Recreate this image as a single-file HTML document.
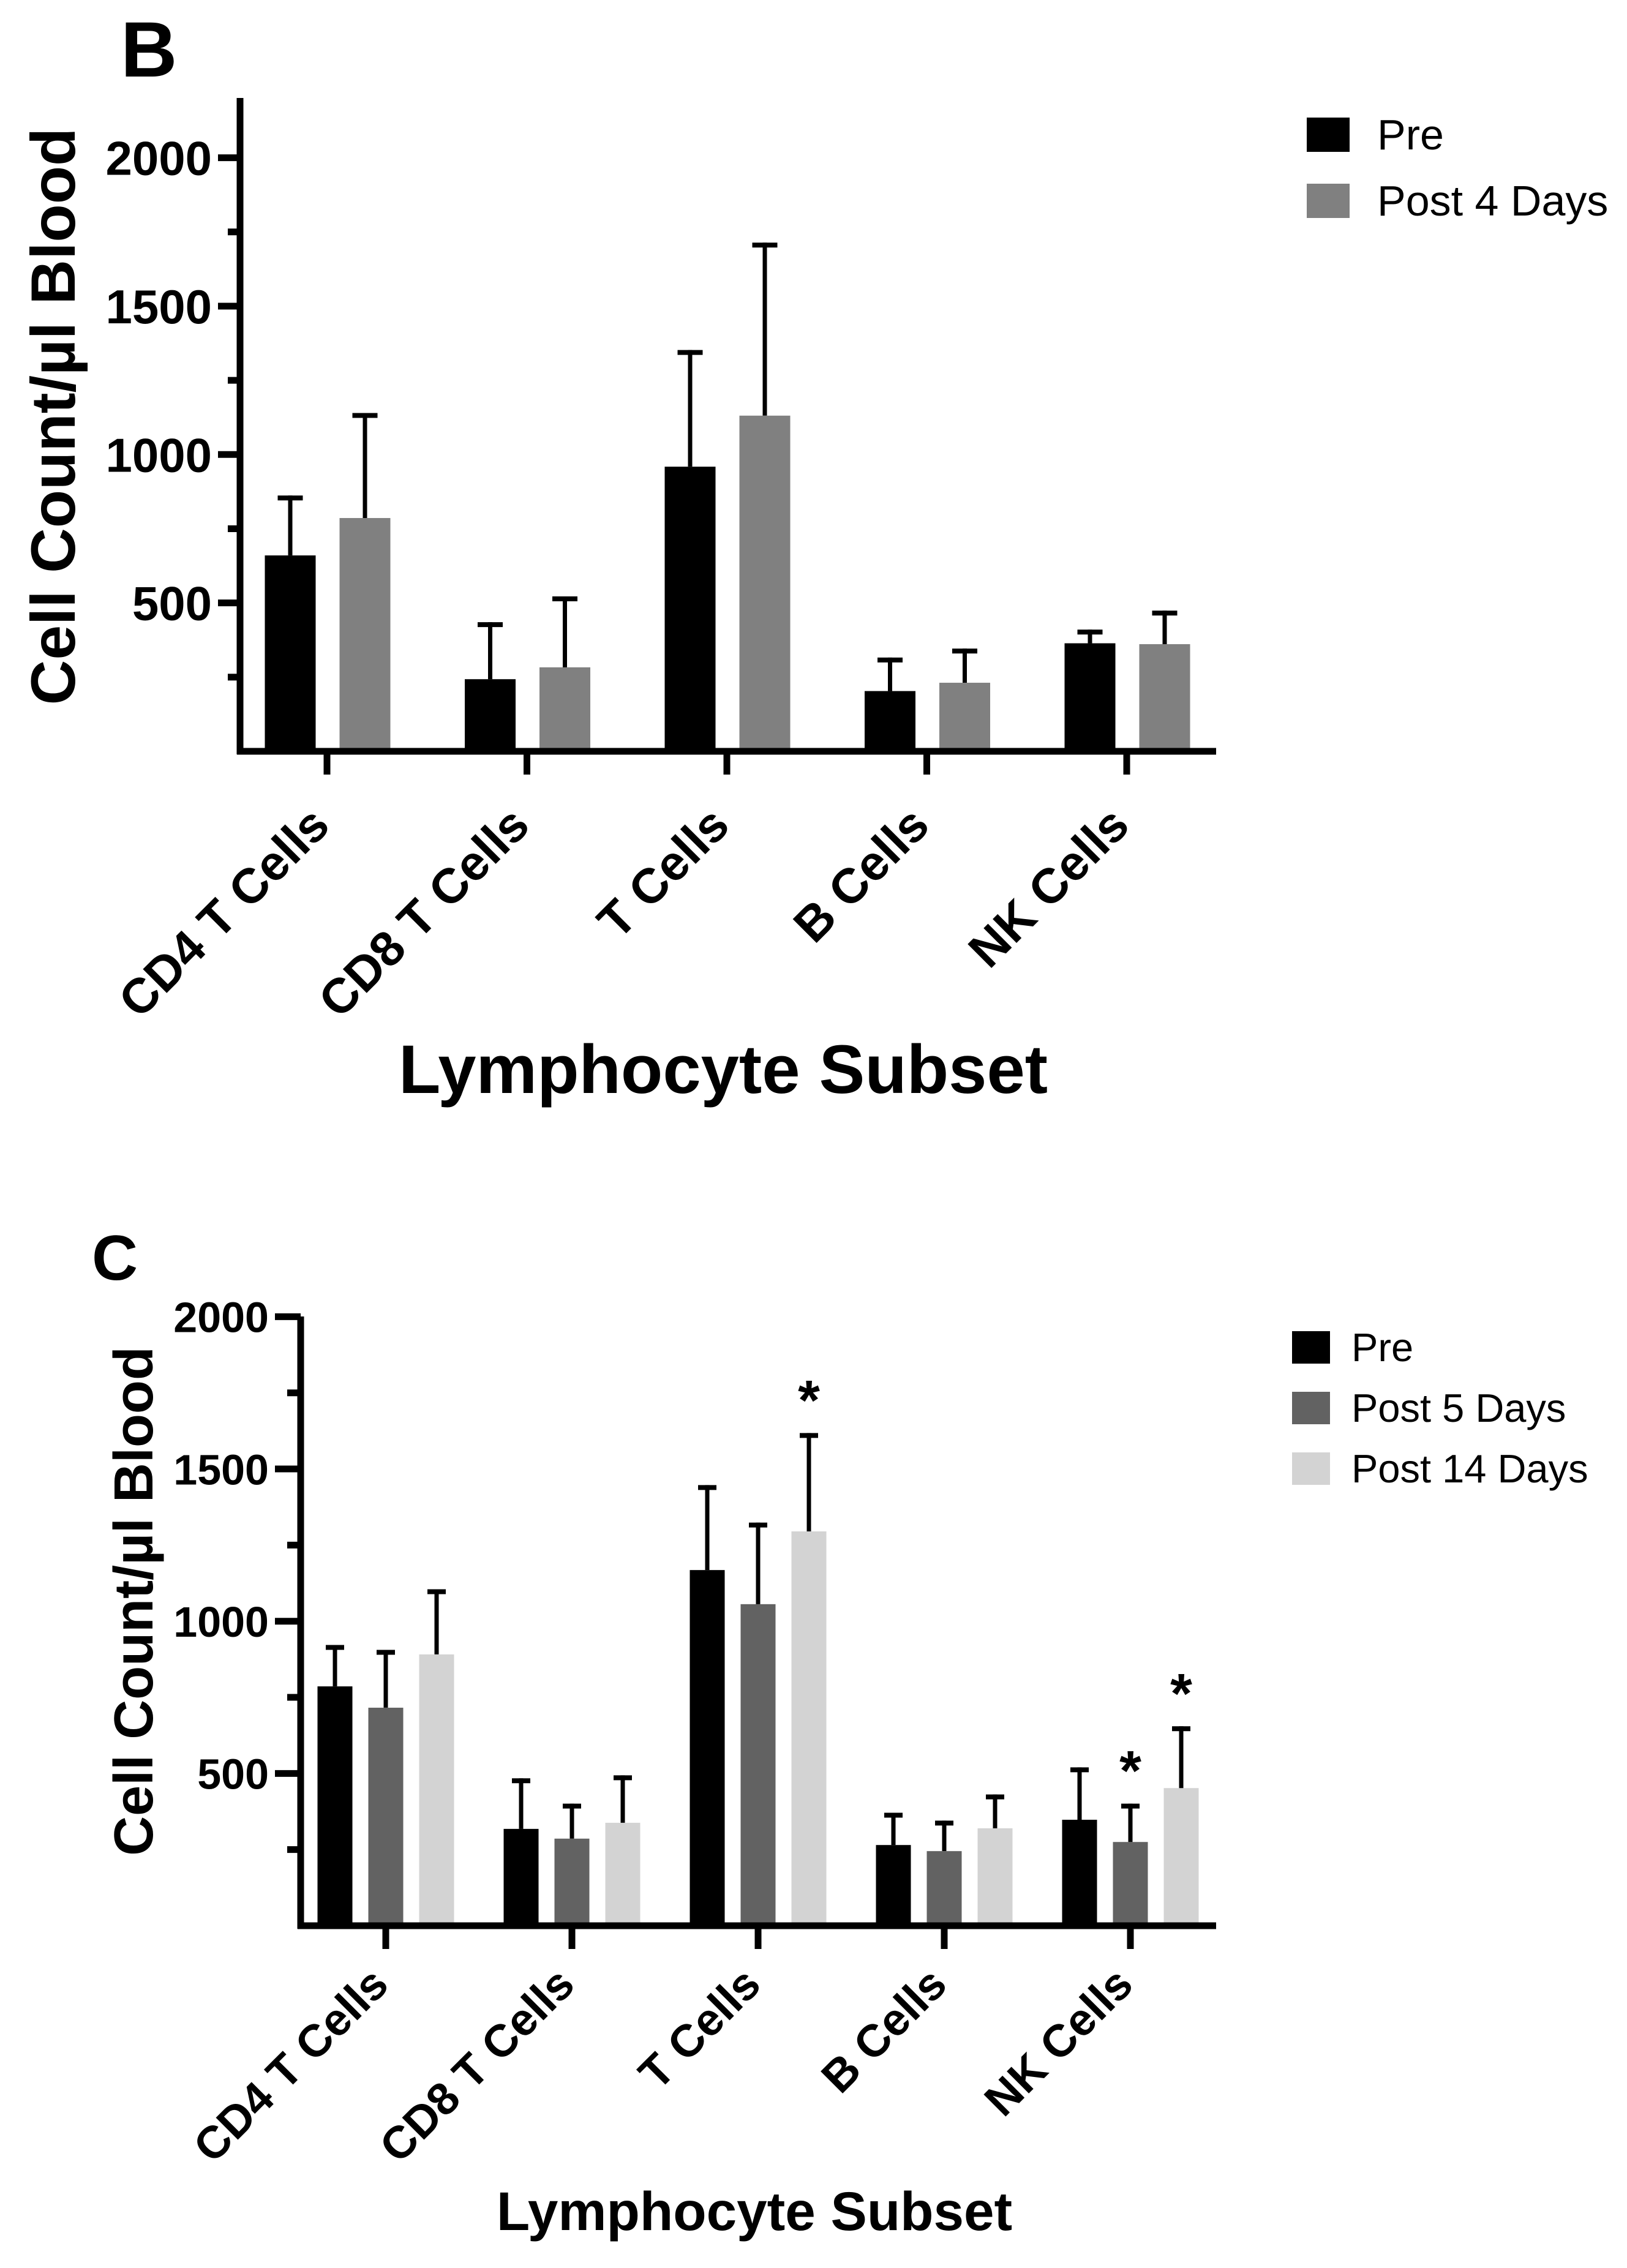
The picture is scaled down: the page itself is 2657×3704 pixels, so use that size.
<!DOCTYPE html>
<html><head><meta charset="utf-8"><style>
html,body{margin:0;padding:0;background:#fff}
svg{display:block}
text{font-family:"Liberation Sans",Arial,sans-serif}
</style></head><body>
<svg id="fig" width="2657" height="3704" viewBox="0 0 2657 3704" xmlns="http://www.w3.org/2000/svg">
<text x="197" y="125" font-size="128" font-weight="bold">B</text>
<text x="150" y="2090" font-size="104" font-weight="bold">C</text>
<g id="chartB"></g>
<g id="chartC"></g>
</svg>
<script>
const categories = ["CD4 T Cells","CD8 T Cells","T Cells","B Cells","NK Cells"];
const yTickValues = [500,1000,1500,2000];
const yMinorValues = [250,750,1250,1750];
const seriesB = ["Pre","Post 4 Days"];
const bPre = [660,243,959,203,364];
const bPreErr = [862,435,1352,316,410];
const bPost4 = [786,283,1131,231,361];
const bPost4Err = [1140,522,1714,346,474];
const seriesC = ["Pre","Post 5 Days","Post 14 Days"];
const cPre = [786,318,1168,265,348];
const cPreErr = [922,484,1447,371,520];
const cPost5 = [716,286,1056,245,275];
const cPost5Err = [906,401,1324,345,401];
const cPost14 = [891,338,1295,320,452];
const cPost14Err = [1105,494,1618,431,655];
const cSig5 = [false,false,false,false,true];
const cSig14 = [false,false,true,false,true];

const NS="http://www.w3.org/2000/svg";
function mk(parent,tag,attrs,txt){const e=document.createElementNS(NS,tag);for(const k in attrs)e.setAttribute(k,attrs[k]);if(txt!==undefined)e.textContent=txt;parent.appendChild(e);return e;}

function drawChart(g,cfg){
  const y=v=>cfg.y0-(v)*cfg.ppu;
  const x=i=>cfg.x0+i*cfg.step;
  cfg.series.forEach((s,si)=>{
    s.vals.forEach((v,i)=>{
      const cx=x(i)+cfg.offsets[si];
      const r=mk(g,'rect',{x:cx-cfg.bw/2,y:y(v),width:cfg.bw,height:cfg.y0-y(v),fill:s.color});
      
      
      const l=mk(g,'line',{x1:cx,x2:cx,y1:y(v),y2:y(s.err[i]),stroke:'#000','stroke-width':7});
      
      
      const c=mk(g,'line',{x1:cx-cfg.cap/2,x2:cx+cfg.cap/2,y1:y(s.err[i])+4,y2:y(s.err[i])+4,stroke:'#000','stroke-width':8});
      
      
      if(s.sig && s.sig[i]){
        const t=mk(g,'text',{x:cx,y:y(s.err[i])-cfg.starGap,'font-size':cfg.starSize,'font-weight':'bold','text-anchor':'middle'},'*');
        
        
      }
    });
  });
  const ya=mk(g,'line',{x1:cfg.ax,x2:cfg.ax,y1:cfg.axTop,y2:cfg.y0+5,stroke:'#000','stroke-width':11});
  
  
  const xa=mk(g,'line',{x1:cfg.ax-5,x2:cfg.axRight,y1:cfg.y0,y2:cfg.y0,stroke:'#000','stroke-width':11});
  
  
  yTickValues.forEach(v=>{
    const t=mk(g,'line',{x1:cfg.ax-cfg.tickLen,x2:cfg.ax,y1:y(v),y2:y(v),stroke:'#000','stroke-width':11});
    
    
    const lb=mk(g,'text',{x:cfg.ax-cfg.tickLen-10,y:y(v)+cfg.tickFont*0.36,'font-size':cfg.tickFont,'font-weight':'bold','text-anchor':'end'},String(v));
    
    
  });
  yMinorValues.forEach(v=>{
    const t=mk(g,'line',{x1:cfg.ax-cfg.minorLen,x2:cfg.ax,y1:y(v),y2:y(v),stroke:'#000','stroke-width':11});
    
    
  });
  categories.forEach((c,i)=>{
    const t=mk(g,'line',{x1:x(i),x2:x(i),y1:cfg.y0,y2:cfg.y0+38,stroke:'#000','stroke-width':11});
    
    
    const ax=x(i)+cfg.catDX, ay=cfg.catY;
    const lb=mk(g,'text',{x:ax,y:ay,'font-size':cfg.catFont,'font-weight':'bold','text-anchor':'end',transform:`rotate(-45 ${ax} ${ay})`},c);
    
    
  });
  const yt=mk(g,'text',{x:cfg.ytX,y:cfg.ytMid,'font-size':cfg.ytFont,'font-weight':'bold','text-anchor':'middle',transform:`rotate(-90 ${cfg.ytX} ${cfg.ytMid})`},'Cell Count/µl Blood');
  
  
  const xt=mk(g,'text',{x:cfg.xtX,y:cfg.xtY,'font-size':cfg.xtFont,'font-weight':'bold','text-anchor':'middle'},'Lymphocyte Subset');
  
  
  cfg.series.forEach((s,si)=>{
    const ly=cfg.legY+si*cfg.legStep;
    const sq=mk(g,'rect',{x:cfg.legX,y:ly,width:cfg.legW,height:cfg.legH,fill:s.color});
    
    
    const lt=mk(g,'text',{x:cfg.legTX,y:ly+cfg.legH-4,'font-size':cfg.legFont},s.name);
    
    
  });
}

drawChart(document.getElementById('chartB'),{
  y0:1227,ppu:0.4847,x0:534,step:326.5,ax:392,axTop:160,axRight:1986,
  offsets:[-60,62],bw:83,cap:41,starGap:0,starSize:90,
  tickLen:36,minorLen:20,tickFont:78,catFont:80,catY:1352,catDX:8,
  ytX:122,ytMid:680,ytFont:102,xtX:1181,xtY:1785,xtFont:112,
  legX:2134,legY:192,legStep:108,legW:70,legH:56,legTX:2249,legFont:70,
  series:[
    {key:'pre',name:seriesB[0],vals:bPre,err:bPreErr,color:'#000000'},
    {key:'post4',name:seriesB[1],vals:bPost4,err:bPost4Err,color:'#808080'}
  ]
});
drawChart(document.getElementById('chartC'),{
  y0:3145,ppu:0.4973,x0:630,step:304,ax:491,axTop:2150,axRight:1986,
  offsets:[-83,0,83],bw:57,cap:30,starGap:22,starSize:92,
  tickLen:42,minorLen:22,tickFont:70,catFont:74,catY:3245,catDX:8,
  ytX:249,ytMid:2615,ytFont:90,xtX:1232,xtY:3642,xtFont:89,
  legX:2110,legY:2174,legStep:99,legW:62,legH:53,legTX:2207,legFont:65,
  series:[
    {key:'pre',name:seriesC[0],vals:cPre,err:cPreErr,color:'#000000'},
    {key:'post5',name:seriesC[1],vals:cPost5,err:cPost5Err,color:'#626262',sig:cSig5},
    {key:'post14',name:seriesC[2],vals:cPost14,err:cPost14Err,color:'#d3d3d3',sig:cSig14}
  ]
});
</script>
</body></html>
